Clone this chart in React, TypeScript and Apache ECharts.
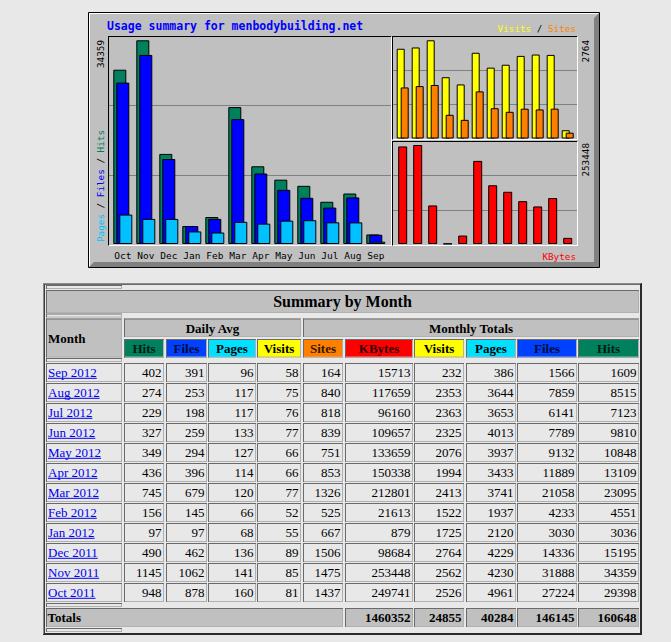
import React, { useEffect, useRef } from 'react';
import * as echarts from 'echarts';

// ---------- data (chronological order) ----------
const monthsShort = ['Oct', 'Nov', 'Dec', 'Jan', 'Feb', 'Mar', 'Apr', 'May', 'Jun', 'Jul', 'Aug', 'Sep'];
const monthNames = ['Oct 2011', 'Nov 2011', 'Dec 2011', 'Jan 2012', 'Feb 2012', 'Mar 2012', 'Apr 2012', 'May 2012', 'Jun 2012', 'Jul 2012', 'Aug 2012', 'Sep 2012'];
const dailyHits = [948, 1145, 490, 97, 156, 745, 436, 349, 327, 229, 274, 402];
const dailyFiles = [878, 1062, 462, 97, 145, 679, 396, 294, 259, 198, 253, 391];
const dailyPages = [160, 141, 136, 68, 66, 120, 114, 127, 133, 117, 117, 96];
const dailyVisits = [81, 85, 89, 55, 52, 77, 66, 66, 77, 76, 75, 58];
const totalSites = [1437, 1475, 1506, 667, 525, 1326, 853, 751, 839, 818, 840, 164];
const totalKBytes = [249741, 253448, 98684, 879, 21613, 212801, 150338, 133659, 109657, 96160, 117659, 15713];
const totalVisits = [2526, 2562, 2764, 1725, 1522, 2413, 1994, 2076, 2325, 2363, 2353, 232];
const totalPages = [4961, 4230, 4229, 2120, 1937, 3741, 3433, 3937, 4013, 3653, 3644, 386];
const totalFiles = [27224, 31888, 14336, 3030, 4233, 21058, 11889, 9132, 7789, 6141, 7859, 1566];
const totalHits = [29398, 34359, 15195, 3036, 4551, 23095, 13109, 10848, 9810, 7123, 8515, 1609];
// Totals row: KBytes, Visits, Pages, Files, Hits
const grandTotals = [1460352, 24855, 40284, 146145, 160648];

const dailyHeaders = ['Hits', 'Files', 'Pages', 'Visits'];
const totalHeaders = ['Sites', 'KBytes', 'Visits', 'Pages', 'Files', 'Hits'];
const titleText = 'Usage summary for menbodybuilding.net';

// ---------- styles ----------
const COL = { hits: '#00805C', files: '#0000FF', pages: '#00C0FF', visits: '#FFFF00', sites: '#FF8000', kbytes: '#FF0000' };
const headerColors = ['#00805C', '#0040FF', '#00E0FF', '#FFFF00', '#FF8000', '#FF0000', '#FFFF00', '#00E0FF', '#0040FF', '#00805C'];
// dark (hue-tinted) text colours for the coloured header cells
const headerTextColors = ['#001E15', '#000C30', '#000000', '#000000', '#301800', '#300000', '#000000', '#000000', '#000C30', '#001E15'];
const PAGE_BG = '#E8E8E8';
const HEAD_BG = '#C0C0C0';
const MONO = 'DejaVu Sans Mono';
const SERIF = 'Liberation Serif';

function measure(text: string, font: string): number {
  const c = document.createElement('canvas').getContext('2d');
  if (!c) return text.length * 6.5;
  c.font = font;
  return c.measureText(text).width;
}

function hline(x1: number, x2: number, y: number, stroke: string, w = 1, z = 50): any {
  return { type: 'line', silent: true, z, shape: { x1, y1: y, x2, y2: y }, style: { stroke, lineWidth: w } };
}
function vline(x: number, y1: number, y2: number, stroke: string, w = 1, z = 50): any {
  return { type: 'line', silent: true, z, shape: { x1: x, y1, x2: x, y2 }, style: { stroke, lineWidth: w } };
}
function txt(text: string, x: number, y: number, o: any = {}): any {
  const align = o.align || 'left';
  const fill = o.fill || '#000000';
  const style: any = {
    text, x: 0, y: 0, fill,
    fontSize: o.size || 13, fontFamily: o.family || SERIF, fontWeight: o.weight || 'normal',
    align, textAlign: align, verticalAlign: 'middle', textVerticalAlign: 'middle',
  };
  return { type: 'text', silent: true, z: o.z ?? 60, x, y, rotation: o.rotation || 0, style };
}
function borders(x0: number, y0: number, x1: number, y1: number): any[] {
  return [
    hline(x0, x1, y0 + 0.5, '#6a6a6a', 1, 41),
    vline(x0 + 0.5, y0, y1, '#6a6a6a', 1, 41),
    hline(x0 + 1, x1, y1 - 0.5, '#b0b0b0', 1, 41),
    vline(x1 - 0.5, y0 + 1, y1, '#b0b0b0', 1, 41),
  ];
}
function cell(x0: number, y0: number, x1: number, y1: number, fill: string): any[] {
  return [
    { type: 'rect', silent: true, z: 40, shape: { x: x0, y: y0, width: x1 - x0, height: y1 - y0 }, style: { fill } },
    ...borders(x0, y0, x1, y1),
  ];
}

function buildGraphic(): any[] {
  const els: any[] = [];
  // ----- chart image frame -----
  els.push({ type: 'rect', silent: true, z: -5, shape: { x: 88, y: 12, width: 512, height: 256 }, style: { fill: '#C0C0C0' } });
  els.push({ type: 'rect', silent: true, z: 50, shape: { x: 88.5, y: 12.5, width: 511, height: 255 }, style: { fill: 'none', stroke: '#000', lineWidth: 1 } });
  els.push(hline(89, 599, 13.5, '#FFFFFF'));
  els.push(vline(89.5, 13, 267, '#FFFFFF'));
  els.push({ type: 'polygon', silent: true, z: 50, shape: { points: [[599, 13], [599, 267], [89, 267], [94, 262], [594, 262], [594, 18]] }, style: { fill: '#808080' } });
  // plot frames (inset): top/left black, bottom/right white
  const frames = [[108, 36, 391, 245], [392, 36, 577, 139], [392, 141, 577, 245]];
  frames.forEach(([x0, y0, x1, y1]) => {
    els.push(hline(x0, x1, y0 + 0.5, '#000', 1, 55));
    els.push(vline(x0 + 0.5, y0, y1, '#000', 1, 55));
    els.push(hline(x0 + 1, x1 + 1, y1 + 0.5, '#FFFFFF', 1, 55));
    els.push(vline(x1 + 0.5, y0 + 1, y1 + 1, '#FFFFFF', 1, 55));
  });
  // title
  els.push(txt(titleText, 107, 26, { family: MONO, size: 11.5, weight: 'bold', fill: '#0000FF' }));
  // rotated max labels
  const small = 9.3;
  const cw = small * 0.6021;
  els.push(txt(String(Math.max(...totalHits)), 100, 40, { family: MONO, size: small, rotation: Math.PI / 2, align: 'right' }));
  els.push(txt(String(Math.max(...totalVisits)), 585, 40, { family: MONO, size: small, rotation: Math.PI / 2, align: 'right' }));
  els.push(txt(String(Math.max(...totalKBytes)), 585, 143, { family: MONO, size: small, rotation: Math.PI / 2, align: 'right' }));
  // Pages / Files / Hits (rotated, multi-colour)
  const parts: [string, string][] = [['Pages', COL.pages], [' / ', '#000000'], ['Files', COL.files], [' / ', '#000000'], ['Hits', COL.hits]];
  let off = 0;
  const kids: any[] = [];
  parts.forEach(([t, c]) => {
    kids.push(txt(t, off, 0, { family: MONO, size: small, fill: c }));
    off += t.length * cw;
  });
  els.push({ type: 'group', x: 100, y: 242, rotation: Math.PI / 2, z: 60, children: kids });
  // Visits / Sites
  const vs: [string, string][] = [['Visits', COL.visits], [' / ', '#000000'], ['Sites', COL.sites]];
  let vx = 576 - 14 * cw;
  vs.forEach(([t, c]) => { els.push(txt(t, vx, 28.5, { family: MONO, size: small, fill: c })); vx += t.length * cw; });
  els.push(txt('KBytes', 576, 256, { family: MONO, size: small, fill: COL.kbytes, align: 'right' }));

  // ----- table -----
  const colL = [46, 124, 166, 208, 257, 303, 345, 414, 466, 517, 578];
  const colR = [122, 164, 207, 256, 301, 343, 413, 464, 516, 577, 639];
  const TL = 43, TR = 642, TT = 283, TB = 635;
  // outer border
  els.push(hline(TL, TR, TT + 0.5, '#8a8a8a', 1, 45));
  els.push(hline(TL + 1, TR - 1, TT + 1.5, '#6a6a6a', 1, 45));
  els.push(vline(TL + 0.5, TT, TB, '#8a8a8a', 1, 45));
  els.push(vline(TL + 1.5, TT + 1, TB - 1, '#3a3a3a', 1, 45));
  els.push(hline(TL, TR, TB - 0.5, '#2a2a2a', 1, 45));
  els.push(hline(TL + 1, TR - 1, TB - 1.5, '#2a2a2a', 1, 45));
  els.push(vline(TR - 0.5, TT, TB, '#2a2a2a', 1, 45));
  els.push(vline(TR - 1.5, TT + 1, TB - 1, '#2a2a2a', 1, 45));
  // spacer rows
  [285, 313.5, 358, 603, 628].forEach((y) => els.push(...cell(colL[0], y, colR[0], y + 4, PAGE_BG)));
  // Summary by Month
  els.push(...cell(46, 290, 639, 313, HEAD_BG));
  els.push(txt('Summary by Month', 342.5, 301.5, { size: 16, weight: 'bold', align: 'center' }));
  // header row 1
  els.push(...cell(colL[0], 318.5, colR[0], 357.5, HEAD_BG));
  els.push(txt('Month', 48, 338, { weight: 'bold' }));
  els.push(...cell(colL[1], 318.5, colR[4], 337, HEAD_BG));
  els.push(txt('Daily Avg', (colL[1] + colR[4]) / 2, 328, { weight: 'bold', align: 'center' }));
  els.push(...cell(colL[5], 318.5, colR[10], 337, HEAD_BG));
  els.push(txt('Monthly Totals', (colL[5] + colR[10]) / 2, 328, { weight: 'bold', align: 'center' }));
  // header row 2 (coloured)
  const heads = [...dailyHeaders, ...totalHeaders];
  heads.forEach((h, k) => {
    const c = k + 1;
    els.push(...cell(colL[c], 339, colR[c], 357.5, headerColors[k]));
    els.push(txt(h, (colL[c] + colR[c]) / 2, 348.5, { weight: 'bold', align: 'center', fill: headerTextColors[k] }));
  });
  // data rows (latest first)
  const n = monthNames.length;
  for (let r = 0; r < n; r++) {
    const i = n - 1 - r;
    const y0 = 363 + 20 * r;
    const y1 = y0 + 19;
    const yc = y0 + 9.8;
    const vals = [dailyHits[i], dailyFiles[i], dailyPages[i], dailyVisits[i], totalSites[i], totalKBytes[i], totalVisits[i], totalPages[i], totalFiles[i], totalHits[i]];
    els.push(...cell(colL[0], y0, colR[0], y1, PAGE_BG));
    els.push(txt(monthNames[i], 48, yc, { fill: '#0000EE' }));
    const w = measure(monthNames[i], `13px "${SERIF}"`);
    els.push(hline(48, 48 + w, yc + 5.5, '#0000EE', 1, 61));
    vals.forEach((v, k) => {
      const c = k + 1;
      els.push(...cell(colL[c], y0, colR[c], y1, PAGE_BG));
      els.push(txt(String(v), colR[c] - 2.5, yc, { align: 'right' }));
    });
  }
  // totals row
  const ty0 = 608, ty1 = 627, tyc = 617.5;
  els.push(...cell(colL[0], ty0, colR[5], ty1, HEAD_BG));
  els.push(txt('Totals', 47.5, tyc, { weight: 'bold' }));
  grandTotals.forEach((v, k) => {
    const c = k + 6;
    els.push(...cell(colL[c], ty0, colR[c], ty1, HEAD_BG));
    els.push(txt(String(v), colR[c] - 2.5, tyc, { weight: 'bold', align: 'right' }));
  });
  return els;
}

function frameAxes(gi: number) {
  return {
    x: { gridIndex: gi, type: 'value', min: 0, max: 1, show: false },
    y: {
      gridIndex: gi, type: 'value', min: 0, max: 3, interval: 1,
      axisLine: { show: false }, axisTick: { show: false }, axisLabel: { show: false },
      splitLine: { show: true, lineStyle: { color: '#808080', width: 1 } },
    },
  };
}

function buildOption(): any {
  const f0 = frameAxes(0), f1 = frameAxes(1), f2 = frameAxes(2);
  const hitsMax = Math.max(...totalHits) * 208 / 203.7;
  const visitsMax = Math.max(...totalVisits) * 102.5 / 98.2;
  const kbMax = Math.max(...totalKBytes) * 103 / 99;
  const catAxis = (gi: number, showLabel: boolean) => ({
    gridIndex: gi, type: 'category', data: monthsShort,
    axisLine: { show: false }, axisTick: { show: false }, splitLine: { show: false },
    axisLabel: { show: showLabel, interval: 0, margin: 6, fontFamily: MONO, fontSize: 9.5, color: '#000' },
  });
  const valAxis = (gi: number, max: number) => ({ gridIndex: gi, type: 'value', min: 0, max, show: false, splitLine: { show: false } });
  const bar = (name: string, data: number[], color: string, gi: number, width: number, gap: string) => ({
    name, type: 'bar', xAxisIndex: gi, yAxisIndex: gi, data, barWidth: width, barGap: gap,
    itemStyle: { color, borderColor: '#000', borderWidth: 1 }, silent: true, z: 3,
  });
  return {
    animation: false,
    backgroundColor: PAGE_BG,
    grid: [
      { left: 108, top: 36, width: 283, height: 209 },
      { left: 392, top: 36, width: 185, height: 103 },
      { left: 392, top: 141, width: 185, height: 104 },
      { left: 111.3, top: 36, width: 276, height: 208 },
      { left: 395.2, top: 36, width: 180, height: 102.5 },
      { left: 395.2, top: 141, width: 180, height: 103 },
    ],
    xAxis: [f0.x, f1.x, f2.x, catAxis(3, true), catAxis(4, false), catAxis(5, false)],
    yAxis: [f0.y, f1.y, f2.y, valAxis(3, hitsMax), valAxis(4, visitsMax), valAxis(5, kbMax)],
    series: [
      bar('Hits', totalHits, COL.hits, 3, 13, '-76.9%'),
      bar('Files', totalFiles, COL.files, 3, 13, '-76.9%'),
      bar('Pages', totalPages, COL.pages, 3, 13, '-76.9%'),
      bar('Visits', totalVisits, COL.visits, 4, 8, '-50%'),
      bar('Sites', totalSites, COL.sites, 4, 8, '-50%'),
      bar('KBytes', totalKBytes, COL.kbytes, 5, 9, '0%'),
    ],
    graphic: { elements: buildGraphic() },
  };
}

export default function App() {
  const ref = useRef<HTMLDivElement>(null);
  useEffect(() => {
    document.body.style.margin = '0';
    const chart = echarts.init(ref.current as HTMLDivElement, null, { renderer: 'svg' });
    chart.setOption(buildOption());
    return () => chart.dispose();
  }, []);
  return <div ref={ref} style={{ width: 671, height: 642 }} />;
}
